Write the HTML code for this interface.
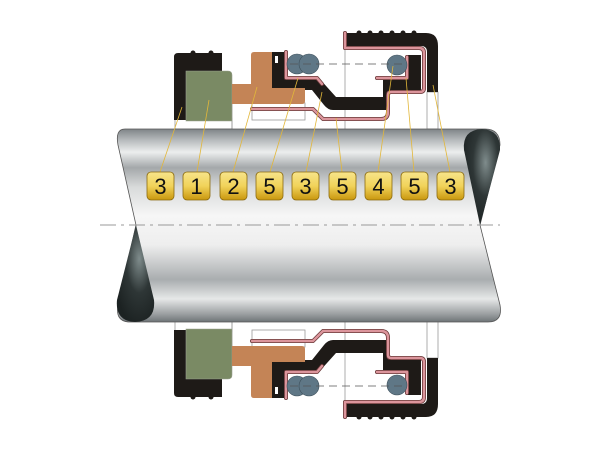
<!DOCTYPE html>
<html><head><meta charset="utf-8"><style>
html,body{margin:0;padding:0;background:#fff;}
svg{display:block;}
</style></head><body>
<svg width="600" height="450" viewBox="0 0 600 450" xmlns="http://www.w3.org/2000/svg">
<defs>
<linearGradient id="sh" x1="0" y1="129" x2="0" y2="322" gradientUnits="userSpaceOnUse">
<stop offset="0" stop-color="#7e8487"/>
<stop offset="0.06" stop-color="#b8bcbe"/>
<stop offset="0.12" stop-color="#eceeee"/>
<stop offset="0.2" stop-color="#a4a8aa"/>
<stop offset="0.3" stop-color="#d8dada"/>
<stop offset="0.45" stop-color="#f6f6f6"/>
<stop offset="0.6" stop-color="#eeeeee"/>
<stop offset="0.78" stop-color="#a9adaf"/>
<stop offset="0.88" stop-color="#e6e8e8"/>
<stop offset="0.96" stop-color="#9a9ea0"/>
<stop offset="1" stop-color="#6e7477"/>
</linearGradient>
<radialGradient id="lens" cx="0.6" cy="0.35" r="0.7">
<stop offset="0" stop-color="#7f8c8c"/>
<stop offset="0.5" stop-color="#2e3636"/>
<stop offset="1" stop-color="#1c2222"/>
</radialGradient>
<linearGradient id="gold" x1="0" y1="0" x2="0" y2="1">
<stop offset="0" stop-color="#f7e48a"/>
<stop offset="0.5" stop-color="#f1d35a"/>
<stop offset="1" stop-color="#c9970e"/>
</linearGradient>
<g id="half">
  <!-- white/gray outlines -->
  <g fill="#fff" stroke="#999" stroke-width="0.8">
    <rect x="175" y="118" width="57" height="11"/>
    <rect x="252" y="103" width="53" height="17"/>
    <rect x="427" y="92" width="11" height="37"/>
  </g>
  <line x1="345" y1="45" x2="345" y2="129" stroke="#999" stroke-width="0.8"/>
  <line x1="232" y1="100" x2="232" y2="129" stroke="#999" stroke-width="0.8"/>
  <!-- left black housing -->
  <path d="M178,53 H222 V72 H186 V120 H174 V57 Q174,53 178,53 Z" fill="#1e1a17"/>
  <circle cx="193" cy="53" r="2.5" fill="#1e1a17"/><circle cx="211" cy="53" r="2.5" fill="#1e1a17"/>
  <!-- green -->
  <path d="M186,71 H228 Q232,71 232,75 V121 H186 Z" fill="#7a8a64" stroke="#9aa090" stroke-width="0.6"/>
  <!-- orange -->
  <path d="M254,52 H272 V88 H305 V101 Q305,104 302,104 H232 V84 H251 V55 Q251,52 254,52 Z" fill="#c48456"/>
  <!-- black seat -->
  <path d="M272,52 H284 V77 H318 L336,97 H383 V78 H408 V55 H421 V93 H390 V110 H333 Q328,110 324,105 L312,90 H305 V88 H272 Z" fill="#1e1a17"/>
  <rect x="275" y="56" width="3" height="7" fill="#fff"/>
  <!-- pink lines -->
  <g fill="none" stroke-linejoin="round" stroke-linecap="round">
    <path d="M286,52 V78 H317 L322,84" stroke="#6b3a3a" stroke-width="4"/>
    <path d="M286,52 V78 H317 L322,84" stroke="#dc959c" stroke-width="2.4"/>
    <path d="M252,109 H313 L323,119 H381 Q388,119 388,112 V95 Q388,92 391,92 H420 Q424,92 424,88 V53 Q424,48 419,48 H345 V33" stroke="#6b3a3a" stroke-width="4"/>
    <path d="M252,109 H313 L323,119 H381 Q388,119 388,112 V95 Q388,92 391,92 H420 Q424,92 424,88 V53 Q424,48 419,48 H345 V33" stroke="#dc959c" stroke-width="2.4"/>
    <path d="M377,78 H407 V57" stroke="#6b3a3a" stroke-width="4"/>
    <path d="M377,78 H407 V57" stroke="#dc959c" stroke-width="2.4"/>
  </g>
  <!-- right cap -->
  <path d="M347,33 H426 Q438,33 438,46 V92 H427 V52 Q427,46 421,46 H347 Z" fill="#1e1a17"/>
  <g fill="#1e1a17"><circle cx="359" cy="33" r="2.5"/><circle cx="370" cy="33" r="2.5"/><circle cx="381" cy="33" r="2.5"/><circle cx="392" cy="33" r="2.5"/><circle cx="403" cy="33" r="2.5"/><circle cx="414" cy="33" r="2.5"/></g>
  <!-- o-rings -->
  <g fill="#5f7786" stroke="#3d4f5a" stroke-width="0.6">
    <circle cx="297" cy="64" r="10"/>
    <circle cx="309" cy="64" r="10"/>
    <circle cx="397" cy="65" r="10"/>
  </g>
  <line x1="290" y1="64" x2="405" y2="64" stroke="#555" stroke-width="0.8" stroke-dasharray="8,5"/>
</g>
</defs>

<use href="#half"/>
<use href="#half" transform="translate(0,450) scale(1,-1)"/>

<!-- shaft -->
<path d="M125,129 H485 Q500,129 500,145 L480,225 L500,305 Q503,322 488,322 H130 Q115,322 118,305 L136,225 L118,145 Q115,129 125,129 Z" fill="url(#sh)" stroke="#555" stroke-width="0.8"/>
<path d="M480,225 L464,150 Q462,130 482,129 Q501,130 500,150 Z" fill="url(#lens)"/>
<path d="M136,225 L117,300 Q115,321 135,322 Q156,321 154,300 Z" fill="url(#lens)"/>
<line x1="100" y1="225" x2="500" y2="225" stroke="#999" stroke-width="1" stroke-dasharray="16,5,3,5"/>

<!-- leaders -->
<g stroke="#e2b73a" stroke-width="0.8">
  <line x1="160" y1="172" x2="182" y2="107"/>
  <line x1="197" y1="172" x2="209" y2="100"/>
  <line x1="233" y1="172" x2="257" y2="87"/>
  <line x1="270" y1="172" x2="298" y2="78"/>
  <line x1="306" y1="172" x2="322" y2="92"/>
  <line x1="342" y1="172" x2="336" y2="118"/>
  <line x1="378" y1="172" x2="393" y2="66"/>
  <line x1="414" y1="172" x2="406" y2="78"/>
  <line x1="450" y1="172" x2="433" y2="85"/>
</g>
<!-- badges -->
<g stroke="#8a6a10" stroke-width="0.8" fill="url(#gold)">
  <rect x="147" y="172" width="27" height="28" rx="4"/>
  <rect x="183" y="172" width="27" height="28" rx="4"/>
  <rect x="220" y="172" width="27" height="28" rx="4"/>
  <rect x="256" y="172" width="27" height="28" rx="4"/>
  <rect x="292" y="172" width="27" height="28" rx="4"/>
  <rect x="329" y="172" width="27" height="28" rx="4"/>
  <rect x="365" y="172" width="27" height="28" rx="4"/>
  <rect x="401" y="172" width="27" height="28" rx="4"/>
  <rect x="437" y="172" width="27" height="28" rx="4"/>
</g>
<g font-family="Liberation Sans, sans-serif" font-size="22" fill="#111" text-anchor="middle">
  <text x="160.5" y="194">3</text>
  <text x="196.5" y="194">1</text>
  <text x="233.5" y="194">2</text>
  <text x="269.5" y="194">5</text>
  <text x="305.5" y="194">3</text>
  <text x="342.5" y="194">5</text>
  <text x="378.5" y="194">4</text>
  <text x="414.5" y="194">5</text>
  <text x="450.5" y="194">3</text>
</g>
</svg>
</body></html>
